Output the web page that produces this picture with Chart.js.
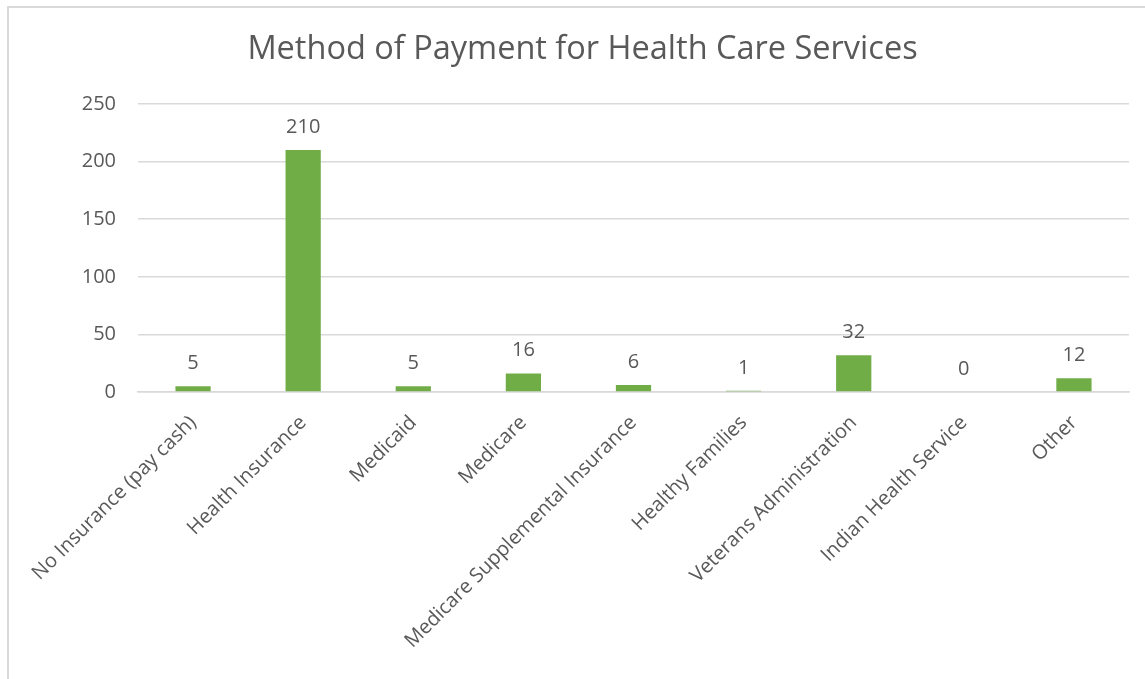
<!DOCTYPE html>
<html>
<head>
<meta charset="utf-8">
<script src="https://cdn.jsdelivr.net/npm/chart.js@4"></script>
<style>
  html, body { margin: 0; padding: 0; background: #fff; overflow: hidden; }
  #frame {
    position: absolute; left: 7px; top: 6px; width: 1200px; height: 760px;
    border: 2px solid #d9d9d9; box-sizing: border-box;
  }
  #wrap { position: absolute; left: 0; top: 0; width: 1145px; height: 679px; }
</style>
</head>
<body>
<div id="frame"></div>
<div id="wrap"><canvas id="myChart"></canvas></div>
<script>
const categories = [
    "No Insurance (pay cash)",
    "Health Insurance",
    "Medicaid",
    "Medicare",
    "Medicare Supplemental Insurance",
    "Healthy Families",
    "Veterans Administration",
    "Indian Health Service",
    "Other",
];
const counts = [5, 210, 5, 16, 6, 1, 32, 0, 12];
const yTicks = [0, 50, 100, 150, 200, 250];

const textColor = "#595959";
const fontFamily = "'Open Sans', 'Liberation Sans', sans-serif";

// Draw the value above each bar
const valueLabels = {
    id: "valueLabels",
    afterDatasetsDraw(chart) {
        const ctx = chart.ctx;
        const meta = chart.getDatasetMeta(0);
        ctx.save();
        ctx.fillStyle = textColor;
        ctx.font = "20px " + fontFamily;
        ctx.textAlign = "center";
        ctx.textBaseline = "bottom";
        meta.data.forEach((bar, i) => {
            ctx.fillText(String(counts[i]), bar.x, bar.y - 13);
        });
        ctx.restore();
    },
};

const config = {
    type: "bar",
    data: {
        labels: categories,
        datasets: [
            {
                data: counts,
                backgroundColor: "#70ad47",
                barPercentage: 0.64,
                categoryPercentage: 0.5,
            },
        ],
    },
    options: {
        responsive: true,
        maintainAspectRatio: false,
        animation: false,
        // left padding centres the title in the frame, y axis width makes up the rest
        layout: { padding: { left: 36, right: 16, top: 0, bottom: 0 } },
        plugins: {
            legend: { display: false },
            tooltip: { enabled: false },
            title: {
                display: true,
                text: "Method of Payment for Health Care Services",
                color: textColor,
                font: { family: fontFamily, size: 32.5, weight: "normal" },
                padding: { top: 30, bottom: 35 },
            },
        },
        scales: {
            y: {
                min: 0,
                max: 250,
                afterBuildTicks: (scale) => {
                    scale.ticks = yTicks.map((v) => ({ value: v }));
                },
                afterFit: (scale) => {
                    scale.width = 102;
                },
                grid: { color: "#d9d9d9", lineWidth: 1.5, drawTicks: false },
                border: { display: false },
                ticks: {
                    color: textColor,
                    padding: 22,
                    font: { family: fontFamily, size: 20 },
                },
            },
            x: {
                afterFit: (scale) => {
                    scale.height = 287;
                },
                grid: { display: false },
                border: { color: "#d9d9d9", width: 1.5 },
                ticks: {
                    color: textColor,
                    autoSkip: false,
                    minRotation: 45,
                    maxRotation: 45,
                    padding: 11,
                    font: { family: fontFamily, size: 20 },
                },
            },
        },
    },
    plugins: [valueLabels],
};

const myChart = new Chart(document.querySelector("#myChart"), config);
</script>
</body>
</html>
